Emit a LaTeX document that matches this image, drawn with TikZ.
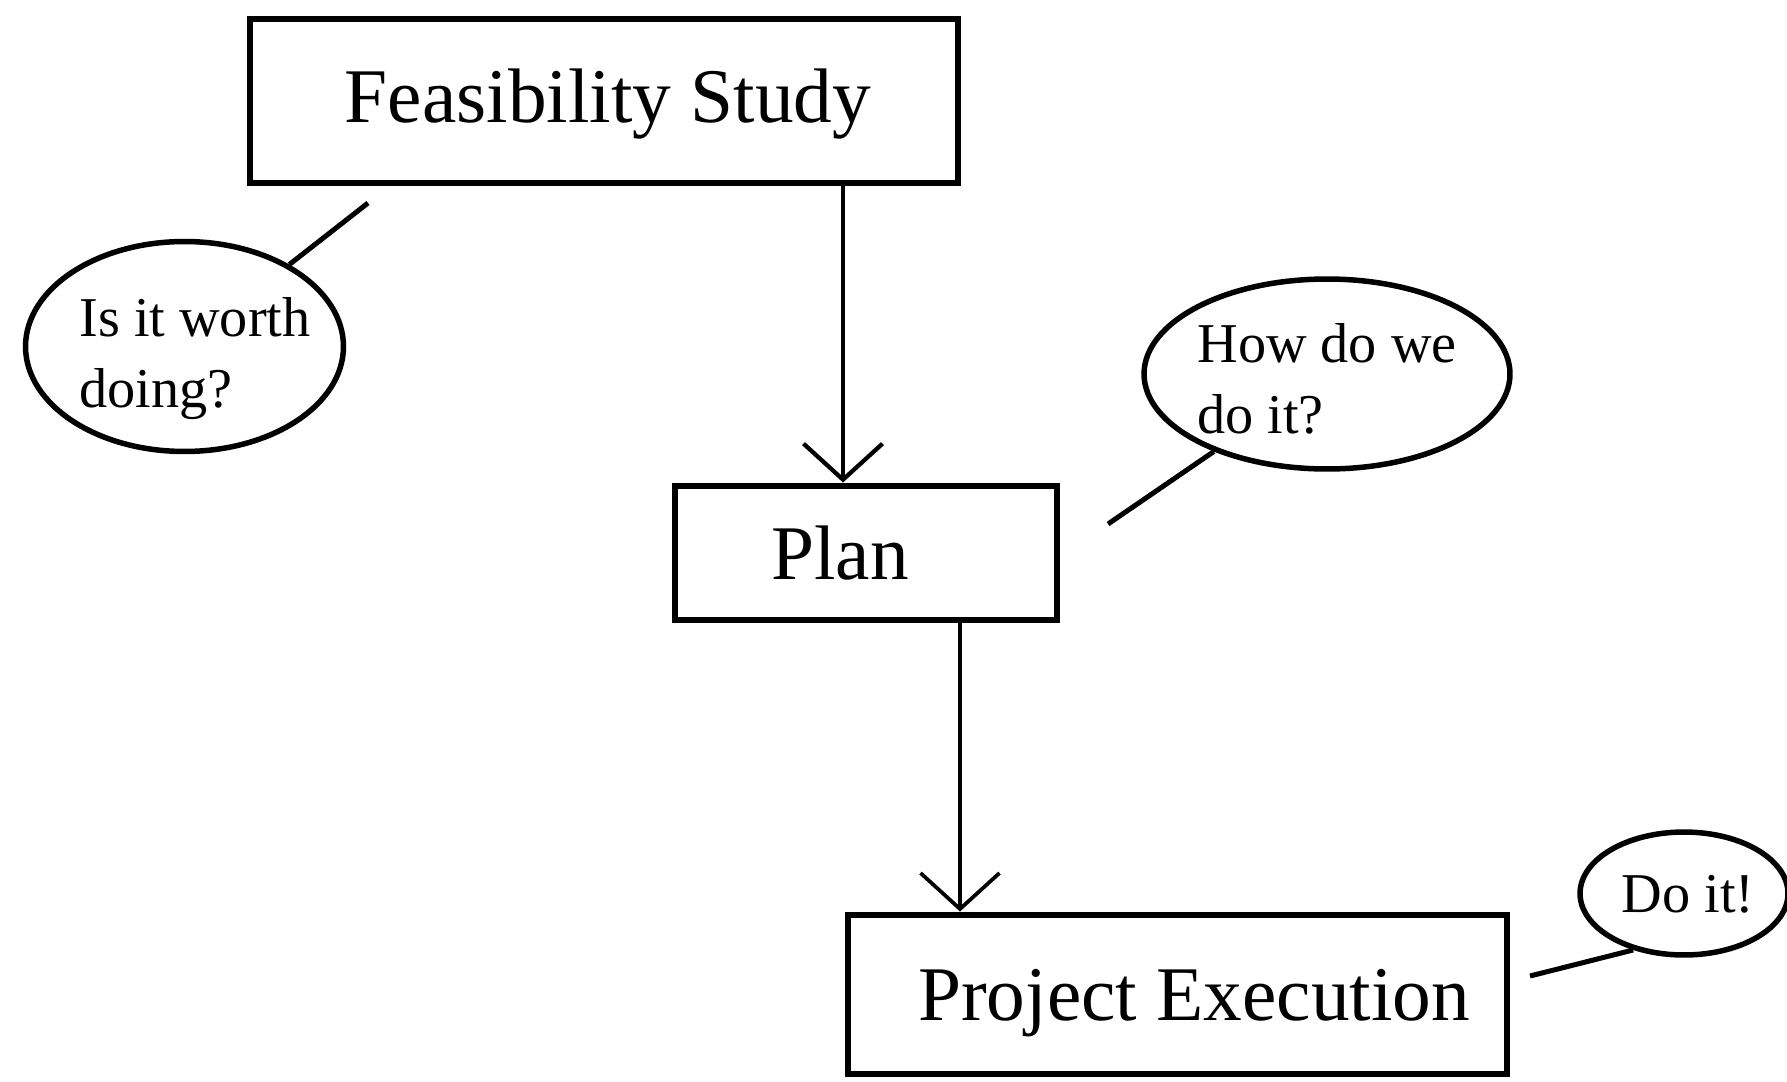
\documentclass[tikz,border=0pt]{standalone}
\usepackage{fontspec}
\setmainfont{Liberation Serif}
\usetikzlibrary{arrows.meta,shapes.geometric,calc}
\begin{document}
\begin{tikzpicture}[x=0.02cm,y=-0.02cm,
  box/.style={draw, line width=0.12cm, rectangle, inner sep=0pt},
  bubble/.style={draw, line width=0.11cm, ellipse, inner sep=0pt},
  bigtxt/.style={font=\fontsize{44}{53}\selectfont, inner sep=0pt},
  smalltxt/.style={font=\fontsize{32}{40.4}\selectfont, inner sep=0pt, align=left},
  flow/.style={line width=0.085cm, -{Straight Barb[length=0.72cm,width=1.58cm]}},
  callout/.style={line width=0.1cm},
]
\fill[white] (0,0) rectangle (1787,1081);
\clip (0,0) rectangle (1787,1081);
\useasboundingbox (0,0) rectangle (1787,1081);

% boxes
\node[box, minimum width=14.16cm, minimum height=3.3cm] (fs) at (604,101) {};
\node[box, minimum width=7.66cm, minimum height=2.7cm] (plan) at (866,553) {};
\node[box, minimum width=13.2cm, minimum height=3.2cm] (pe) at (1177.5,994.5) {};

\node[bigtxt, anchor=base] (tfs) at (608,123) {Feasibility Study};
\node[bigtxt, anchor=base] (tplan) at (840,579) {Plan};
\node[bigtxt, anchor=base] (tpe) at (1194,1020) {Project Execution};

% bubbles
\node[bubble, minimum width=6.36cm, minimum height=4.2cm] (e1) at (184.5,346.5) {};
\node[bubble, minimum width=7.32cm, minimum height=3.8cm] (e2) at (1327,374) {};
\node[bubble, minimum width=4.16cm, minimum height=2.46cm] (e3) at (1684,893.5) {};

\node[smalltxt] (t1) at (195,358.6) {Is it worth\\doing?};
\node[smalltxt] (t2) at (1327,378.5) {How do we\\do it?};
\node[smalltxt, anchor=base] (t3) at (1688,912) {Do it!};

% callout tails
\coordinate (c1) at (368,203);
\coordinate (c2) at (1108,524);
\coordinate (c3) at (1530,976);
\draw[callout] (c1) -- (e1);
\draw[callout] (c2) -- (e2);
\draw[callout] (c3) -- (e3.228);

% flow arrows
\coordinate (x1) at (843,0);
\coordinate (x2) at (960,0);
\draw[flow] (fs.south -| x1) -- (plan.north -| x1);
\draw[flow, line width=0.075cm] (plan.south -| x2) -- (pe.north -| x2);
\end{tikzpicture}
\end{document}
